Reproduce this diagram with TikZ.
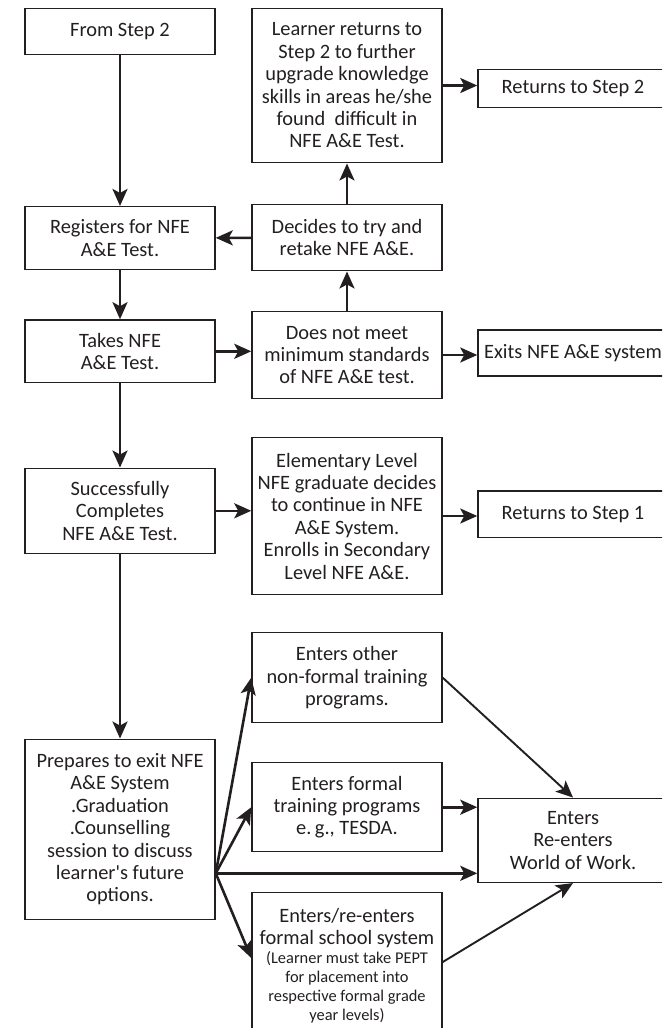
\documentclass[tikz,border=0pt]{standalone}
\usepackage{fontspec}
\setmainfont{Carlito}
\usetikzlibrary{positioning, arrows.meta}
\definecolor{ink}{RGB}{35,31,32}
\newcommand{\boxfont}{\fontsize{20.4}{22.4}\selectfont}
\newcommand{\notefont}{\fontsize{16.4}{19}\selectfont}

\begin{document}
\begin{tikzpicture}[x=1pt, y=-1pt,
  box/.style={draw=ink, line width=1.5pt, text=ink, align=center,
    minimum width=190pt, inner sep=0pt, font=\boxfont},
  arr/.style={draw=ink, line width=2.6pt, -{Stealth[length=17pt, width=15pt, inset=4pt]}},
  thinarr/.style={arr, line width=1.9pt}]
\clip (0,0) rectangle (662,1028);

% left column
\node[box, minimum height=46pt] (from2) at (120, 31.3) {From Step 2};
\node[box, minimum height=62.6pt] (reg) at (120, 238) {Registers for NFE\\A\&E Test.};
\node[box, minimum height=62.7pt] (takes) at (120, 351.3) {Takes NFE\\A\&E Test.};
\node[box, minimum height=85pt] (success) at (120, 510.8) {Successfully\\Completes\\NFE A\&E Test.};
\node[box, minimum height=180pt] (prep) at (120, 829.3) {Prepares to exit NFE\\A\&E System\\.Graduation\\.Counselling\\session to discuss\\learner\textquotesingle s future\\options.};

% middle column
\node[box, minimum height=154.4pt] (learner) at (347, 85.5) {Learner returns to\\Step 2 to further\\upgrade knowledge\\skills in areas he/she\\found\ \ difficult in\\NFE A\&E Test.};
\node[box, minimum height=66pt] (decide) at (347, 237.7) {Decides to try and\\retake NFE A\&E.};
\node[box, minimum height=86.6pt] (fail) at (347, 355) {Does not meet\\minimum standards\\of NFE A\&E test.};
\node[box, minimum height=156.6pt] (elem) at (347, 516) {Elementary Level\\NFE graduate decides\\to continue in NFE\\A\&E System.\\Enrolls in Secondary\\Level NFE A\&E.};
\node[box, minimum height=90pt] (other) at (347, 677.7) {Enters other\\non-formal training\\programs.};
\node[box, minimum height=89pt] (formal) at (347, 807.2) {Enters formal\\training programs\\e.\,g., TESDA.};
\node[box, minimum height=147pt] (school) at (347, 966) {Enters/re-enters\\formal school system\\[-3.4pt]\notefont (Learner must take PEPT\\[-3.4pt]\notefont for placement into\\[-3.4pt]\notefont respective formal grade\\[-3.4pt]\notefont year levels)};

% right column
\node[box, minimum height=38pt] (ret2) at (573, 88.3) {Returns to Step 2};
\node[box, minimum height=46pt] (exits) at (573, 353) {Exits NFE A\&E system};
\node[box, minimum height=46.7pt] (ret1) at (573, 514.3) {Returns to Step 1};
\node[box, minimum height=84pt] (world) at (573, 840.3) {Enters\\Re-enters\\World of Work.};

\coordinate (fan) at ([yshift=-44pt]prep.east);

\draw[arr] (from2) -- (reg);
\draw[arr] (reg) -- (takes);
\draw[arr] (takes) -- (success);
\draw[arr] (success) -- (prep);
\draw[arr] (takes.east) -- (takes.east -| fail.west);
\draw[arr] (fail.east) -- (fail.east -| exits.west);
\draw[arr] (fail) -- (decide);
\draw[arr] (decide) -- (learner);
\draw[arr] (decide) -- (reg);
\draw[arr] (learner.east) -- (learner.east -| ret2.west);
\draw[arr] (success.east) -- (success.east -| elem.west);
\draw[arr] (elem.east) -- (elem.east -| ret1.west);

% leaving the system
\draw[arr] (fan) -- (other.west);
\draw[arr] (fan) -- (formal.west);
\draw[arr] (fan) -- (fan -| world.west);
\draw[arr] (fan) -- ([yshift=8pt]school.west);
\draw[thinarr] (other.east) -- (world.north);
\draw[arr] (formal.east) -- (formal.east -| world.west);
\draw[thinarr] ([yshift=4pt]school.east) -- (world.south);
\end{tikzpicture}
\end{document}
